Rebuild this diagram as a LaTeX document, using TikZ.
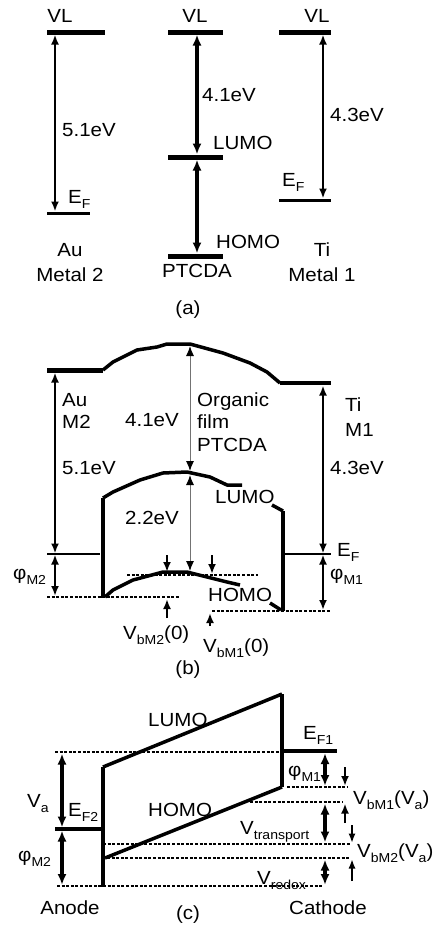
\documentclass[tikz,border=0pt]{standalone}
\usepackage{fontspec}
\usepackage{graphicx}
\setmainfont{Liberation Sans}
\usetikzlibrary{arrows.meta}
\newcommand\sbs[1]{\raisebox{-4.5pt}{\fontsize{13}{13}\selectfont #1}}
\begin{document}
\begin{tikzpicture}[x=1pt,y=-1pt,
  lbl/.style={inner sep=0pt, text height=13.6pt, text depth=0pt, font=\fontsize{19}{22}\selectfont,
    execute at begin node={\setbox0=\hbox\bgroup},
    execute at end node={\egroup\scalebox{1.08}[1]{\box0}}},
  lw/.style={lbl, anchor=west},
  lev/.style={line width=5pt},
  levb/.style={line width=3pt},
  thinlev/.style={line width=1.2pt},
  wall/.style={line width=4.5pt},
  band/.style={line width=3.5pt, line join=round},
  dbl/.style={{Latex[length=10pt,width=8pt]}-{Latex[length=10pt,width=8pt]}, line width=2.3pt},
  dblthick/.style={{Latex[length=11pt,width=9pt]}-{Latex[length=11pt,width=9pt]}, line width=4pt},
  dblc/.style={{Latex[length=11pt,width=9pt]}-{Latex[length=11pt,width=9pt]}, line width=3.2pt},
  sgl/.style={-{Latex[length=10pt,width=8pt]}, line width=2.8pt},
  sglthin/.style={-{Latex[length=9pt,width=7pt]}, line width=1.2pt},
  grayarr/.style={{Latex[length=10pt,width=8pt,color=black]}-{Latex[length=10pt,width=8pt,color=black]}, line width=1pt, draw=black!55},
  dotl/.style={line width=2.4pt, dash pattern=on 3pt off 1.6pt},
]
\useasboundingbox (0,0) rectangle (434,929);

% ================= (a) =================
\coordinate (aL1) at (47,32);  \coordinate (aL2) at (105,32);
\coordinate (aLe1) at (47,213); \coordinate (aLe2) at (90,213);
\coordinate (aLt) at (55,34.5); \coordinate (aLb) at (55,211.5);
\draw[lev] (aL1) -- (aL2);
\draw[levb] (aLe1) -- (aLe2);
\draw[dbl] (aLt) -- (aLb);

\coordinate (aM1) at (168,32);  \coordinate (aM2) at (223,32);
\coordinate (aML1) at (168,157); \coordinate (aML2) at (223,157);
\coordinate (aMH1) at (168,256); \coordinate (aMH2) at (223,256);
\draw[lev] (aM1) -- (aM2);
\draw[lev] (aML1) -- (aML2);
\draw[lev] (aMH1) -- (aMH2);
\coordinate (aMa) at (197,34.5); \coordinate (aMb) at (197,154.5);
\coordinate (aMc) at (197,159.5); \coordinate (aMd) at (197,253.5);
\draw[dblthick] (aMa) -- (aMb);
\draw[dblthick] (aMc) -- (aMd);

\coordinate (aR1) at (279,32);  \coordinate (aR2) at (331,32);
\coordinate (aRe1) at (279,200); \coordinate (aRe2) at (331,200);
\coordinate (aRt) at (323,34.5); \coordinate (aRb) at (323,198.5);
\draw[lev] (aR1) -- (aR2);
\draw[levb] (aRe1) -- (aRe2);
\draw[dbl] (aRt) -- (aRb);

\node[lbl] (vl1) at (60,16) {VL};
\node[lbl] (vl2) at (195,16) {VL};
\node[lbl] (vl3) at (317,16) {VL};
\node[lw] (e51) at (62,130) {5.1eV};
\node[lw] (ef1) at (68,197) {E\sbs{F}};
\node[lbl] (au1) at (70,250) {Au};
\node[lbl] (m21) at (70,275) {Metal 2};
\node[lw] (e41) at (202,95) {4.1eV};
\node[lw] (lu1) at (213,143) {LUMO};
\node[lw] (ho1) at (216,242) {HOMO};
\node[lbl] (pt1) at (197,271) {PTCDA};
\node[lbl] (capa) at (188,308) {(a)};
\node[lw] (e43) at (330,115) {4.3eV};
\node[lw] (ef3) at (282,180) {E\sbs{F}};
\node[lbl] (ti1) at (322,250) {Ti};
\node[lbl] (m11) at (322,275) {Metal 1};

% ================= (b) =================
\coordinate (bVL1) at (47,370); \coordinate (bVL2) at (103,370);
\coordinate (bVR1) at (280,383); \coordinate (bVR2) at (331,383);
\draw[lev] (bVL1) -- (bVL2);
\draw[line width=4pt] (bVR1) -- (bVR2);
\draw[band] (bVL2) -- (113,362) -- (137,350) -- (157,347) -- (167,344) -- (190,344)
  -- (223,353) -- (250,363) -- (267,372) -- (bVR1);

% LUMO band and walls
\coordinate (bLw) at (103,498); \coordinate (bLwb) at (103,598);
\draw[wall] (bLw) -- (bLwb);
\draw[band] (bLw) -- (113,492) -- (140,480) -- (163,473) -- (187,472) -- (210,477) -- (227,485) -- (242,485);
\coordinate (bRw) at (283,511); \coordinate (bRwb) at (283,611);
\draw[band] (272,505) -- (bRw);
\draw[wall] (bRw) -- (bRwb);
% HOMO band
\draw[band] (105,597) -- (113,590) -- (133,580) -- (163,572) -- (187,572) -- (207,577) -- (227,582) -- (240,585);
\draw[band] (270,603) -- (281,610);

% Fermi levels
\coordinate (bEL1) at (47,554); \coordinate (bEL2) at (100,554);
\coordinate (bER1) at (283,554); \coordinate (bER2) at (331,554);
\draw[thinlev] (bEL1) -- (bEL2);
\draw[thinlev] (bER1) -- (bER2);

% dotted lines
\coordinate (bD1a) at (47,597); \coordinate (bD1b) at (180,597);
\coordinate (bD2a) at (127,575); \coordinate (bD2b) at (258,575);
\coordinate (bD3a) at (212,611); \coordinate (bD3b) at (331,611);
\draw[dotl] (bD1a) -- (bD1b);
\draw[dotl] (bD2a) -- (bD2b);
\draw[dotl] (bD3a) -- (bD3b);

% arrows
\draw[dbl] (55,372.5) -- (55,553.5);
\draw[dbl] (55,554.5) -- (55,596);
\draw[dbl] (323,385.5) -- (323,553.5);
\draw[dbl] (323,554.5) -- (323,610);
\draw[grayarr] (190,346) -- (190,471);
\draw[grayarr] (190,475) -- (190,571);
\draw[sgl] (167,555) -- (167,572);
\draw[sgl] (212,555) -- (212,574);
\draw[sgl] (167,618) -- (167,599);
\draw[sgl] (210,626) -- (210,613);

% labels (b)
\node[lw] (au2) at (62,400) {Au};
\node[lw] (m22) at (62,422) {M2};
\node[lw] (e52) at (62,468) {5.1eV};
\node[lw] (e42) at (125,420) {4.1eV};
\node[lw] (org) at (197,400) {Organic};
\node[lw] (film) at (197,422) {film};
\node[lw] (pt2) at (197,445) {PTCDA};
\node[lw] (ti2) at (345,405) {Ti};
\node[lw] (m12) at (345,430) {M1};
\node[lw] (e44) at (330,468) {4.3eV};
\node[lw] (lu2) at (215,497) {LUMO};
\node[lw] (e22) at (125,518) {2.2eV};
\node[lw] (ho2) at (208,595) {HOMO};
\node[lw] (ef4) at (337,550) {E\sbs{F}};
\node[lw] (pm2b) at (13,573) {φ\sbs{M2}};
\node[lw] (pm1b) at (330,573) {φ\sbs{M1}};
\node[lw] (vb2) at (123,633) {V\sbs{bM2}(0)};
\node[lw] (vb1) at (203,646) {V\sbs{bM1}(0)};
\node[lbl] (capb) at (188,668) {(b)};

% ================= (c) =================
\coordinate (cLt) at (103,767); \coordinate (cLb) at (103,887);
\coordinate (cRt) at (282,694); \coordinate (cRb) at (282,787);
\coordinate (cHl) at (105,858);
\draw[wall] (cLt) -- (cLb);
\draw[band] (cLt) -- (cRt);
\draw[wall] (cRt) -- (cRb);
\draw[band] (cHl) -- (cRb);

\coordinate (cE1a) at (282,751); \coordinate (cE1b) at (337,751);
\coordinate (cE2a) at (55,829);  \coordinate (cE2b) at (103,829);
\draw[line width=3.5pt] (cE1a) -- (cE1b);
\draw[line width=4pt] (cE2a) -- (cE2b);

\draw[dotl] (55,752) -- (282,752);
\draw[dotl] (57,886) -- (322,886);
\draw[dotl] (287,787) -- (347,787);
\draw[dotl] (250,802) -- (343,802);
\draw[dotl] (103,844) -- (350,844);
\draw[dotl] (107,858) -- (350,858);

\draw[dblc] (62,753.5) -- (62,827.5);
\draw[dblc] (62,830.5) -- (62,885);
\draw[dblc] (325,753) -- (325,786);
\draw[dblc] (325,803.5) -- (325,842.5);
\draw[dblc] (325,859.5) -- (325,885);
\draw[sgl] (345,767) -- (345,786);
\draw[sgl] (345,823) -- (345,803.5);
\draw[sglthin] (352,825) -- (352,842.5);
\draw[sglthin] (352,881) -- (352,859.5);

\node[lw] (lu3) at (148,720) {LUMO};
\node[lw] (ho3) at (148,810) {HOMO};
\node[lw] (ef1c) at (303,733) {E\sbs{F1}};
\node[lw] (va) at (27,801) {V\sbs{a}};
\node[lw] (ef2c) at (68,810) {E\sbs{F2}};
\node[lw] (pm2c) at (18,855) {φ\sbs{M2}};
\node[lw] (pm1c) at (288,770) {φ\sbs{M1}};
\node[lw] (vbm1) at (353,798) {V\sbs{bM1}(V\sbs{a})};
\node[lw] (vtr) at (240,828) {V\sbs{transport}};
\node[lw] (vbm2) at (357,851) {V\sbs{bM2}(V\sbs{a})};
\node[lw] (vred) at (257,878) {V\sbs{redox}};
\node[lbl] (anode) at (70,908) {Anode};
\node[lbl] (cath) at (328,908) {Cathode};
\node[lbl] (capc) at (188,913) {(c)};
\end{tikzpicture}
\end{document}
